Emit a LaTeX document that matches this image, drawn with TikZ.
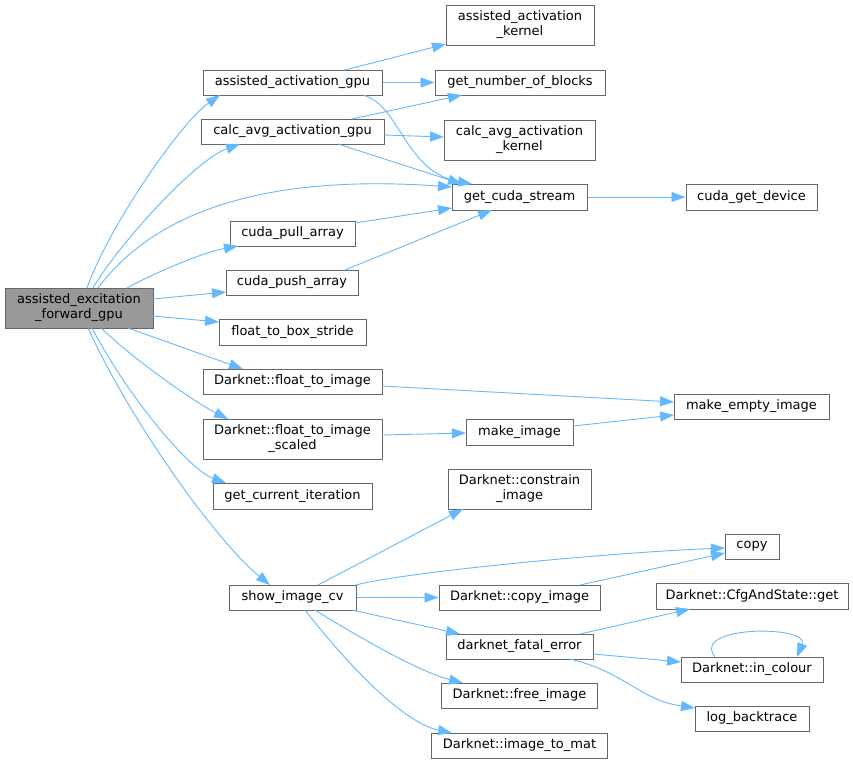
\documentclass[tikz,border=0pt]{standalone}
\usepackage{fontspec}
\setmainfont{DejaVu Sans}
\usetikzlibrary{arrows.meta,calc}
\definecolor{edgec}{HTML}{63B8FF}
\definecolor{boxc}{HTML}{666666}
\definecolor{rootc}{HTML}{999999}
\tikzset{
  box/.style={draw=boxc, line width=1pt, fill=white, inner sep=0pt, align=center,
    font=\fontsize{13}{15}\selectfont, anchor=center, minimum height=25pt},
  tall/.style={minimum height=40pt},
  edge/.style={draw=edgec, line width=0.9pt, -{Triangle[length=14pt,width=10pt]}}
}
\begin{document}
\begin{tikzpicture}[x=1pt,y=-1pt]
\useasboundingbox (0,0) rectangle (853,763);
% nodes
\node[box, tall, fill=rootc, minimum width=148pt] (root) at (79,308) {assisted\_excitation\\\_forward\_gpu};
\node[box, minimum width=179pt] (aag) at (292.5,82.5) {assisted\_activation\_gpu};
\node[box, minimum width=183pt] (cag) at (292.5,131.5) {calc\_avg\_activation\_gpu};
\node[box, minimum width=125pt] (cpull) at (292.5,233.5) {cuda\_pull\_array};
\node[box, minimum width=132pt] (cpush) at (292,282.5) {cuda\_push\_array};
\node[box, minimum width=147pt, minimum height=26pt] (ftbs) at (292.5,332) {float\_to\_box\_stride};
\node[box, minimum width=179pt] (fti) at (292.5,381.5) {Darknet::float\_to\_image};
\node[box, tall, minimum width=179pt] (ftis) at (292.5,439) {Darknet::float\_to\_image\\\_scaled};
\node[box, minimum width=159pt, minimum height=26pt] (gci) at (292.5,496) {get\_current\_iteration};
\node[box, minimum width=127pt] (sicv) at (292.5,597.5) {show\_image\_cv};
\node[box, tall, minimum width=148pt] (aak) at (520,25) {assisted\_activation\\\_kernel};
\node[box, minimum width=170pt] (gnb) at (520,82.5) {get\_number\_of\_blocks};
\node[box, tall, minimum width=151pt] (cak) at (519.5,140) {calc\_avg\_activation\\\_kernel};
\node[box, minimum width=135pt, minimum height=26pt] (gcs) at (519.5,197) {get\_cuda\_stream};
\node[box, minimum width=131pt, minimum height=26pt] (cgd) at (751.5,197) {cuda\_get\_device};
\node[box, minimum width=155pt] (mei) at (751.5,406.5) {make\_empty\_image};
\node[box, minimum width=107pt, minimum height=26pt] (mi) at (519.5,432) {make\_image};
\node[box, tall, minimum width=143pt] (ci) at (519.5,489) {Darknet::constrain\\\_image};
\node[box, minimum width=54pt] (copy) at (752,546.5) {copy};
\node[box, minimum width=161pt] (cpimg) at (519.5,597.5) {Darknet::copy\_image};
\node[box, minimum width=192pt, minimum height=26pt] (cfg) at (752,596) {Darknet::CfgAndState::get};
\node[box, minimum width=147pt] (dfe) at (519.5,646.5) {darknet\_fatal\_error};
\node[box, minimum width=142pt] (inc) at (752,669.5) {Darknet::in\_colour};
\node[box, minimum width=156pt] (fri) at (519.5,695.5) {Darknet::free\_image};
\node[box, minimum width=114pt] (lbt) at (752,718.5) {log\_backtrace};
\node[box, minimum width=176pt] (itm) at (519.5,745.5) {Darknet::image\_to\_mat};
% edges from root
\draw[edge] ($(root)+(8,-20)$) .. controls (108,228) and (180,123) .. ($(aag)+(-72.5,12.5)$);
\draw[edge] ($(root)+(14,-20)$) .. controls (118,245) and (195,160) .. ($(cag)+(-52.5,12.5)$);
\draw[edge] ($(root)+(19,-20)$) .. controls (145,225) and (240,172) .. ($(gcs)+(-67.5,-10)$);
\draw[edge] ($(root)+(48,-20)$) .. controls (160,270) and (205,252) .. ($(cpull)+(-54.5,12.5)$);
\draw[edge] ($(root)+(74,-9)$) -- ($(cpush)+(-66,9.5)$);
\draw[edge] ($(root)+(74,8)$) -- ($(ftbs)+(-73.5,-10)$);
\draw[edge] ($(root)+(49,20)$) -- ($(fti)+(-49.5,-12.5)$);
\draw[edge] ($(root)+(22,20)$) .. controls (140,365) and (200,405) .. ($(ftis)+(-64.5,-20)$);
\draw[edge] ($(root)+(13,20)$) .. controls (130,400) and (190,470) .. ($(gci)+(-66.5,-13)$);
\draw[edge] ($(root)+(9,20)$) .. controls (130,420) and (215,540) .. ($(sicv)+(-22.5,-12.5)$);
% second level
\draw[edge] ($(aag)+(52.5,-12.5)$) -- ($(aak)+(-74,19)$);
\draw[edge] (aag.east) -- (gnb.west);
\draw[edge] ($(aag)+(70.5,12.5)$) .. controls (400,105) and (405,172) .. ($(gcs)+(-47.5,-13)$);
\draw[edge] ($(cag)+(59.5,-12.5)$) -- ($(gnb)+(-58,12.5)$);
\draw[edge] ($(cag)+(91.5,3.5)$) -- ($(cak)+(-75.5,-3)$);
\draw[edge] ($(cag)+(45.5,12.5)$) -- ($(gcs)+(-57.5,-13)$);
\draw[edge] ($(cpull)+(62.5,-10.5)$) -- ($(gcs)+(-67.5,11)$);
\draw[edge] ($(cpush)+(53,-12.5)$) -- ($(gcs)+(-27.5,13)$);
\draw[edge] (gcs.east) -- (cgd.west);
\draw[edge] ($(fti)+(89.5,4.5)$) -- ($(mei)+(-77.5,-4.5)$);
\draw[edge] ($(ftis)+(89.5,-4)$) -- ($(mi)+(-53.5,1)$);
\draw[edge] ($(mi)+(53.5,-6)$) -- ($(mei)+(-77.5,8.5)$);
\draw[edge] ($(sicv)+(25.5,-12.5)$) -- ($(ci)+(-56.5,20)$);
\draw[edge] ($(sicv)+(63.5,-12.5)$) .. controls (400,573) and (600,553) .. ($(copy)+(-27,1.5)$);
\draw[edge] (sicv.east) -- (cpimg.west);
\draw[edge] ($(sicv)+(59.5,12.5)$) -- ($(dfe)+(-59.5,-12.5)$);
\draw[edge] ($(sicv)+(22.5,12.5)$) .. controls (360,638) and (420,672) .. ($(fri)+(-56.5,-12.5)$);
\draw[edge] ($(sicv)+(12.5,12.5)$) .. controls (340,655) and (400,722) .. ($(itm)+(-67.5,-12.5)$);
\draw[edge] ($(cpimg)+(60.5,-12.5)$) -- ($(copy)+(-27,6.5)$);
\draw[edge] ($(dfe)+(60.5,-12.5)$) -- ($(cfg)+(-62,13)$);
\draw[edge] ($(dfe)+(73.5,7.5)$) -- ($(inc)+(-71,-7.5)$);
\draw[edge] ($(dfe)+(50.5,12.5)$) .. controls (625,672) and (640,700) .. ($(lbt)+(-57,-10.5)$);
\draw[edge] ($(inc)+(-37,-12.5)$) .. controls (690,625) and (810,625) .. ($(inc)+(45,-12.5)$);
\end{tikzpicture}
\end{document}
